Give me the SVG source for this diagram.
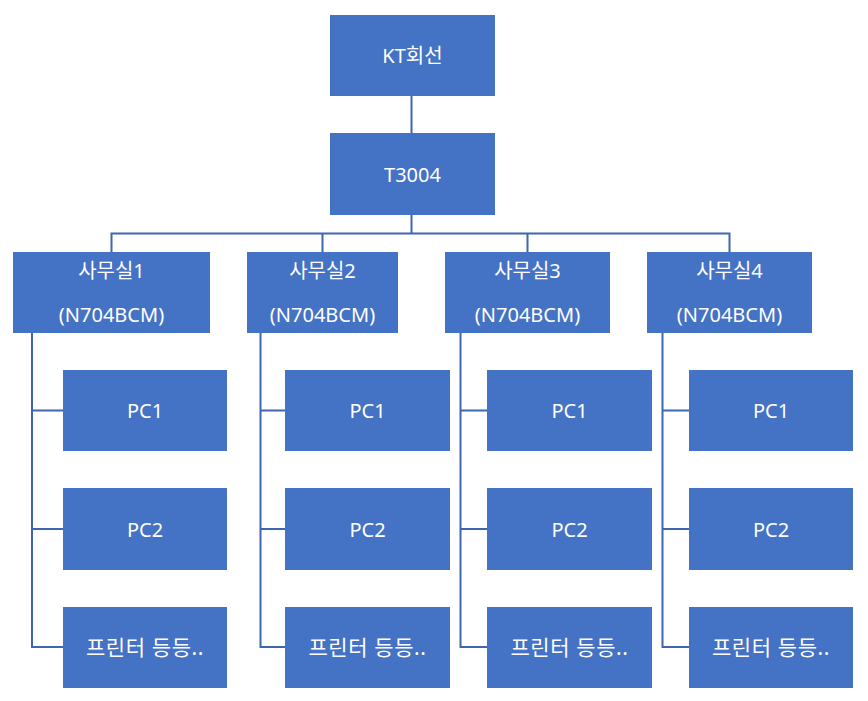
<svg xmlns="http://www.w3.org/2000/svg" width="868" height="701" viewBox="0 0 868 701">
<style>
.n{fill:#4472C4}
.t{fill:#fff;font-family:"Noto Sans","Noto Sans CJK KR",sans-serif;font-size:20px;text-anchor:middle}
.k{font-size:21px;letter-spacing:0.6px}
.c{fill:none;stroke:#3E66B0;stroke-width:2}
</style>
<rect width="868" height="701" fill="#fff"/>
<g id="connectors" class="c">
<path d="M411.5,96V133"/>
<path d="M411.5,215V233.5M111.5,252V233.5H729.5V252M322.5,233.5V252M527.5,233.5V252"/>
<path d="M32,333V647H63M32,410.5H63M32,529H63"/>
<path d="M260.5,333V647H285M260.5,410.5H285M260.5,529H285"/>
<path d="M460.5,333V647H487M460.5,410.5H487M460.5,529H487"/>
<path d="M662.5,333V647H689M662.5,410.5H689M662.5,529H689"/>
</g>
<g id="kt"><rect class="n" x="330" y="15" width="165" height="81"/><text class="t" x="412.5" y="63">KT회선</text></g>
<g id="t3004"><rect class="n" x="330" y="133" width="165" height="82"/><text class="t" x="412.5" y="182">T3004</text></g>
<g id="office1"><rect class="n" x="13" y="252" width="197" height="81"/><text class="t" x="111.5" y="278">사무실1</text><text class="t" x="111.5" y="322">(N704BCM)</text></g>
<g id="office2"><rect class="n" x="247" y="252" width="151" height="81"/><text class="t" x="322.5" y="278">사무실2</text><text class="t" x="322.5" y="322">(N704BCM)</text></g>
<g id="office3"><rect class="n" x="445" y="252" width="165" height="81"/><text class="t" x="527.5" y="278">사무실3</text><text class="t" x="527.5" y="322">(N704BCM)</text></g>
<g id="office4"><rect class="n" x="647" y="252" width="165" height="81"/><text class="t" x="729.5" y="278">사무실4</text><text class="t" x="729.5" y="322">(N704BCM)</text></g>
<g id="o1pc1"><rect class="n" x="63" y="370" width="164" height="81"/><text class="t" x="145" y="418">PC1</text></g>
<g id="o1pc2"><rect class="n" x="63" y="488" width="164" height="82"/><text class="t" x="145" y="537">PC2</text></g>
<g id="o1prn"><rect class="n" x="63" y="607" width="164" height="81"/><text class="t k" x="145" y="655">프린터 등등..</text></g>
<g id="o2pc1"><rect class="n" x="285" y="370" width="165" height="81"/><text class="t" x="367.5" y="418">PC1</text></g>
<g id="o2pc2"><rect class="n" x="285" y="488" width="165" height="82"/><text class="t" x="367.5" y="537">PC2</text></g>
<g id="o2prn"><rect class="n" x="285" y="607" width="165" height="81"/><text class="t k" x="367.5" y="655">프린터 등등..</text></g>
<g id="o3pc1"><rect class="n" x="487" y="370" width="165" height="81"/><text class="t" x="569.5" y="418">PC1</text></g>
<g id="o3pc2"><rect class="n" x="487" y="488" width="165" height="82"/><text class="t" x="569.5" y="537">PC2</text></g>
<g id="o3prn"><rect class="n" x="487" y="607" width="165" height="81"/><text class="t k" x="569.5" y="655">프린터 등등..</text></g>
<g id="o4pc1"><rect class="n" x="689" y="370" width="164" height="81"/><text class="t" x="771" y="418">PC1</text></g>
<g id="o4pc2"><rect class="n" x="689" y="488" width="164" height="82"/><text class="t" x="771" y="537">PC2</text></g>
<g id="o4prn"><rect class="n" x="689" y="607" width="164" height="81"/><text class="t k" x="771" y="655">프린터 등등..</text></g>
</svg>
